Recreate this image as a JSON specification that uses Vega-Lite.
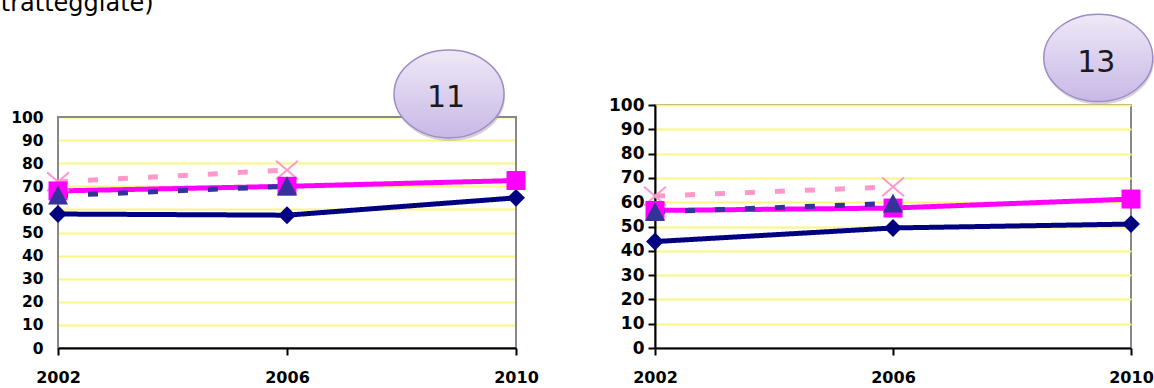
{
  "$schema": "https://vega.github.io/schema/vega-lite/v6.json",
  "padding": {"left": 0, "top": -9, "right": 0, "bottom": 0},
  "background": "#ffffff",
  "spacing": 139,
  "bounds": "flush",
  "config": {
    "axis": {"labelFont": "DejaVu Sans", "labelFontWeight": "bold", "labelColor": "#000000", "labelOverlap": false, "title": null, "labelFlush": false}
  },
  "datasets": {
    "series": [
      {"panel": "11", "serie": "Serie 1", "year": 2002, "value": 58},
      {"panel": "11", "serie": "Serie 1", "year": 2006, "value": 57.5},
      {"panel": "11", "serie": "Serie 1", "year": 2010, "value": 65},
      {"panel": "11", "serie": "Serie 2", "year": 2002, "value": 68},
      {"panel": "11", "serie": "Serie 2", "year": 2006, "value": 70},
      {"panel": "11", "serie": "Serie 2", "year": 2010, "value": 72.5},
      {"panel": "11", "serie": "Serie 3", "year": 2002, "value": 72},
      {"panel": "11", "serie": "Serie 3", "year": 2006, "value": 77},
      {"panel": "11", "serie": "Serie 4", "year": 2002, "value": 66},
      {"panel": "11", "serie": "Serie 4", "year": 2006, "value": 70},
      {"panel": "13", "serie": "Serie 1", "year": 2002, "value": 43.8},
      {"panel": "13", "serie": "Serie 1", "year": 2006, "value": 49.4},
      {"panel": "13", "serie": "Serie 1", "year": 2010, "value": 51},
      {"panel": "13", "serie": "Serie 2", "year": 2002, "value": 56.6},
      {"panel": "13", "serie": "Serie 2", "year": 2006, "value": 57.6},
      {"panel": "13", "serie": "Serie 2", "year": 2010, "value": 61.3},
      {"panel": "13", "serie": "Serie 3", "year": 2002, "value": 62.5},
      {"panel": "13", "serie": "Serie 3", "year": 2006, "value": 66.3},
      {"panel": "13", "serie": "Serie 4", "year": 2002, "value": 56},
      {"panel": "13", "serie": "Serie 4", "year": 2006, "value": 59.5}
    ],
    "notes": [
      {"panel": "11", "label": "11", "year": 2008.83, "value": 110},
      {"panel": "13", "label": "13", "year": 2009.45, "value": 119.4}
    ],
    "heading": [
      {"label": "tratteggiate)", "year": 2001.0, "value": 145.9}
    ]
  },
  "resolve": {"scale": {"x": "independent", "y": "independent"}},
  "hconcat": [
    {
      "width": 458,
      "height": 243,
      "view": {"stroke": null},
      "encoding": {
        "x": {"field": "year", "type": "quantitative",
          "scale": {"domain": [2002, 2010], "nice": false, "zero": false},
          "axis": {"values": [2002, 2006, 2010], "format": "d", "grid": false,
            "domainColor": "#000000", "domainWidth": 2, "tickColor": "#000000", "tickWidth": 2, "tickSize": 7,
            "labelFontSize": 16, "labelPadding": 14, "zindex": 1}},
        "y": {"field": "value", "type": "quantitative",
          "scale": {"domain": [0, 105.2], "nice": false},
          "axis": {"values": [0, 10, 20, 30, 40, 50, 60, 70, 80, 90, 100], "tickCount": 11, "domain": false, "ticks": false,
            "grid": true, "gridColor": "#f9f77e", "gridWidth": 2,
            "labelFontSize": 15.5, "labelPadding": 15}}
      },
      "layer": [
        {
          "data": {"values": [{"year": 2002, "value": 0, "year2": 2010, "value2": 100}]},
          "mark": {"type": "rect", "fillOpacity": 0, "stroke": "#888888", "strokeWidth": 2},
          "encoding": {
            "x2": {"field": "year2"},
            "y2": {"field": "value2"}
          }
        },
        {
          "data": {"name": "series"},
          "transform": [{"filter": "datum.panel == '11'"}],
          "mark": {"type": "line", "strokeWidth": 5, "strokeCap": "butt"},
          "encoding": {
            "color": {"field": "serie", "type": "nominal", "legend": null,
              "scale": {"domain": ["Serie 1", "Serie 2", "Serie 3", "Serie 4"], "range": ["#000080", "#ff00ff", "#ff99cc", "#333399"]}},
            "strokeDash": {"field": "serie", "type": "nominal", "legend": null,
              "scale": {"domain": ["Serie 1", "Serie 2", "Serie 3", "Serie 4"], "range": [[1, 0], [1, 0], [10, 20], [10, 20]]}}
          }
        },
        {
          "data": {"name": "series"},
          "transform": [{"filter": "datum.panel == '11' && datum.serie == 'Serie 3'"}],
          "mark": {"type": "point", "filled": false, "stroke": "#ff99cc", "strokeWidth": 2, "opacity": 1, "shape": "M-1,-0.85L1,0.85M1,-0.85L-1,0.85", "size": 480}
        },
        {
          "data": {"name": "series"},
          "transform": [{"filter": "datum.panel == '11' && datum.serie != 'Serie 3'"}],
          "mark": {"type": "point", "filled": true, "opacity": 1},
          "encoding": {
            "color": {"field": "serie", "type": "nominal", "legend": null},
            "shape": {"field": "serie", "type": "nominal", "legend": null,
              "scale": {"domain": ["Serie 1", "Serie 2", "Serie 4"], "range": ["diamond", "square", "M0,-1L1,0.9L-1,0.9Z"]}},
            "size": {"field": "serie", "type": "nominal", "legend": null,
              "scale": {"domain": ["Serie 1", "Serie 2", "Serie 4"], "range": [320, 400, 440]}}
          }
        },
        {
          "data": {"name": "notes"},
          "transform": [{"filter": "datum.panel == '11'"}],
          "mark": {"type": "point", "filled": true, "fill": "#a49cb0", "opacity": 0.45, "strokeWidth": 0, "yOffset": 3, "xOffset": 1,
            "shape": "M-1,0A1,0.8,0,1,1,1,0A1,0.8,0,1,1,-1,0Z", "size": 12100}
        },
        {
          "data": {"name": "notes"},
          "transform": [{"filter": "datum.panel == '11'"}],
          "mark": {"type": "point", "filled": true, "opacity": 1,
            "fill": {"gradient": "linear", "x1": 0, "y1": 0, "x2": 0, "y2": 1,
              "stops": [{"offset": 0, "color": "#eee9f7"}, {"offset": 1, "color": "#c8b8e6"}]},
            "stroke": "#a08cc4", "strokeWidth": 1.5,
            "shape": "M-1,0A1,0.8,0,1,1,1,0A1,0.8,0,1,1,-1,0Z", "size": 12100}
        },
        {
          "data": {"name": "notes"},
          "transform": [{"filter": "datum.panel == '11'"}],
          "mark": {"type": "text", "font": "DejaVu Sans", "fontSize": 30, "color": "#1a1a1a", "align": "center", "baseline": "middle", "dx": -3, "dy": 4},
          "encoding": {"text": {"field": "label"}}
        },
        {
          "data": {"name": "heading"},
          "mark": {"type": "text", "font": "DejaVu Sans", "fontSize": 24, "color": "#000000", "align": "left", "baseline": "alphabetic"},
          "encoding": {"text": {"field": "label"}}
        }
      ]
    },
    {
      "width": 476,
      "height": 243,
      "view": {"stroke": "#888888", "strokeWidth": 2},
      "encoding": {
        "x": {"field": "year", "type": "quantitative",
          "scale": {"domain": [2002, 2010], "nice": false, "zero": false},
          "axis": {"values": [2002, 2006, 2010], "format": "d", "grid": false,
            "domainColor": "#000000", "domainWidth": 2, "tickColor": "#000000", "tickWidth": 2, "tickSize": 7,
            "labelFontSize": 16, "labelPadding": 14, "zindex": 1}},
        "y": {"field": "value", "type": "quantitative",
          "scale": {"domain": [0, 100], "nice": false},
          "axis": {"values": [0, 10, 20, 30, 40, 50, 60, 70, 80, 90, 100], "tickCount": 11,
            "domainColor": "#000000", "domainWidth": 2, "tickColor": "#000000", "tickWidth": 2, "tickSize": 7,
            "grid": true, "gridColor": "#f9f77e", "gridWidth": 2,
            "labelFontSize": 17, "labelPadding": 4}}
      },
      "layer": [
        {
          "data": {"name": "series"},
          "transform": [{"filter": "datum.panel == '13'"}],
          "mark": {"type": "line", "strokeWidth": 5, "strokeCap": "butt"},
          "encoding": {
            "color": {"field": "serie", "type": "nominal", "legend": null,
              "scale": {"domain": ["Serie 1", "Serie 2", "Serie 3", "Serie 4"], "range": ["#000080", "#ff00ff", "#ff99cc", "#333399"]}},
            "strokeDash": {"field": "serie", "type": "nominal", "legend": null,
              "scale": {"domain": ["Serie 1", "Serie 2", "Serie 3", "Serie 4"], "range": [[1, 0], [1, 0], [10, 20], [10, 20]]}}
          }
        },
        {
          "data": {"name": "series"},
          "transform": [{"filter": "datum.panel == '13' && datum.serie == 'Serie 3'"}],
          "mark": {"type": "point", "filled": false, "stroke": "#ff99cc", "strokeWidth": 2, "opacity": 1, "shape": "M-1,-0.85L1,0.85M1,-0.85L-1,0.85", "size": 480}
        },
        {
          "data": {"name": "series"},
          "transform": [{"filter": "datum.panel == '13' && datum.serie != 'Serie 3'"}],
          "mark": {"type": "point", "filled": true, "opacity": 1},
          "encoding": {
            "color": {"field": "serie", "type": "nominal", "legend": null},
            "shape": {"field": "serie", "type": "nominal", "legend": null,
              "scale": {"domain": ["Serie 1", "Serie 2", "Serie 4"], "range": ["diamond", "square", "M0,-1L1,0.9L-1,0.9Z"]}},
            "size": {"field": "serie", "type": "nominal", "legend": null,
              "scale": {"domain": ["Serie 1", "Serie 2", "Serie 4"], "range": [320, 400, 440]}}
          }
        },
        {
          "data": {"name": "notes"},
          "transform": [{"filter": "datum.panel == '13'"}],
          "mark": {"type": "point", "filled": true, "fill": "#a49cb0", "opacity": 0.45, "strokeWidth": 0, "yOffset": 3, "xOffset": 1,
            "shape": "M-1,0A1,0.8,0,1,1,1,0A1,0.8,0,1,1,-1,0Z", "size": 11900}
        },
        {
          "data": {"name": "notes"},
          "transform": [{"filter": "datum.panel == '13'"}],
          "mark": {"type": "point", "filled": true, "opacity": 1,
            "fill": {"gradient": "linear", "x1": 0, "y1": 0, "x2": 0, "y2": 1,
              "stops": [{"offset": 0, "color": "#eee9f7"}, {"offset": 1, "color": "#c8b8e6"}]},
            "stroke": "#a08cc4", "strokeWidth": 1.5,
            "shape": "M-1,0A1,0.8,0,1,1,1,0A1,0.8,0,1,1,-1,0Z", "size": 11900}
        },
        {
          "data": {"name": "notes"},
          "transform": [{"filter": "datum.panel == '13'"}],
          "mark": {"type": "text", "font": "DejaVu Sans", "fontSize": 30, "color": "#1a1a1a", "align": "center", "baseline": "middle", "dx": -2, "dy": 5},
          "encoding": {"text": {"field": "label"}}
        }
      ]
    }
  ]
}
